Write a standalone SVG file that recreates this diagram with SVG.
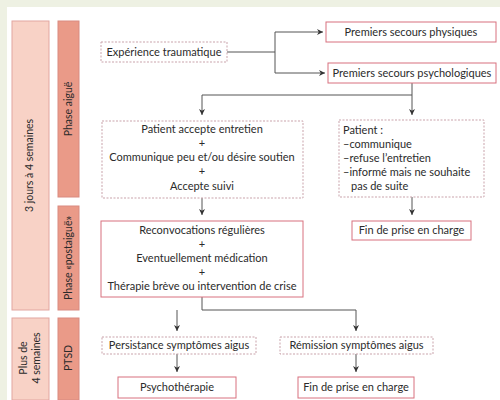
<svg xmlns="http://www.w3.org/2000/svg" width="500" height="400" viewBox="0 0 500 400">
<style>
text{font-family:Lato,"Liberation Sans",sans-serif;font-size:11px;fill:#2b2b2b}
.c{text-anchor:middle}
.v{font-size:10.5px}
.dash{fill:#fff;stroke:#c9a3ab;stroke-width:1;stroke-dasharray:2,1.5}
.sol{fill:#fff;stroke:#d8707e;stroke-width:1}
.b1{fill:#f8d2c6;stroke:#e2a6a0;stroke-width:1}
.b2{fill:#ea9a88;stroke:#d98a80;stroke-width:1}
.ln{fill:none;stroke:#555;stroke-width:1}
</style>
<defs>
<marker id="ah" viewBox="0 0 10 10" refX="10" refY="5" markerWidth="6" markerHeight="6" orient="auto" markerUnits="userSpaceOnUse">
<path d="M0,0 L10,5 L0,10 L3,5 Z" fill="#333"/>
</marker>
</defs>
<rect x="0" y="0" width="500" height="400" fill="#eef1e3"/>
<rect x="7" y="7" width="493" height="393" fill="#fff"/>

<g id="bar-3jours"><rect class="b1" x="12" y="21" width="37" height="289"/><text class="c v" transform="translate(33,165.5) rotate(-90)">3 jours à 4 semaines</text></g>
<g id="bar-aigue"><rect class="b2" x="58" y="21" width="21" height="176"/><text class="c v" transform="translate(72,109) rotate(-90)">Phase aiguë</text></g>
<g id="bar-postaigue"><rect class="b2" x="58" y="206" width="21" height="104"/><text class="c v" transform="translate(72,258) rotate(-90)">Phase «postaiguë»</text></g>
<g id="bar-plus"><rect class="b1" x="12" y="318" width="37" height="82"/><text class="c v" transform="translate(27,358) rotate(-90)">Plus de</text><text class="c v" transform="translate(40,358) rotate(-90)">4 semaines</text></g>
<g id="bar-ptsd"><rect class="b2" x="58" y="318" width="21" height="82"/><text class="c v" transform="translate(72,358) rotate(-90)">PTSD</text></g>

<g id="connectors" class="ln">
<path d="M227,52 H275"/>
<path d="M275,32 V73"/>
<path d="M275,32 H323" marker-end="url(#ah)"/>
<path d="M275,73 H325" marker-end="url(#ah)"/>
<path d="M412,83 V115" marker-end="url(#ah)"/>
<path d="M412,95 H202 V115" marker-end="url(#ah)"/>
<path d="M202,198 V215" marker-end="url(#ah)"/>
<path d="M412,197 V215" marker-end="url(#ah)"/>
<path d="M202,297 V310 H356 V331" marker-end="url(#ah)"/>
<path d="M177,310 V331" marker-end="url(#ah)"/>
<path d="M177,354 V372" marker-end="url(#ah)"/>
<path d="M356,354 V372" marker-end="url(#ah)"/>
</g>

<g id="experience"><rect class="dash" x="101" y="42" width="126" height="20"/><text class="c" x="164" y="55.8">Expérience traumatique</text></g>
<g id="secours-physiques"><rect class="sol" x="326" y="22" width="170" height="20"/><text class="c" x="411" y="35.8">Premiers secours physiques</text></g>
<g id="secours-psycho"><rect class="sol" x="328" y="63" width="168" height="20"/><text class="c" x="412" y="76.8">Premiers secours psychologiques</text></g>
<g id="patient-accepte"><rect class="dash" x="102" y="121" width="201" height="77"/>
<text class="c" x="202" y="133">Patient accepte entretien</text>
<text class="c" x="202" y="147">+</text>
<text class="c" x="202" y="161">Communique peu et/ou désire soutien</text>
<text class="c" x="202" y="175">+</text>
<text class="c" x="202" y="190">Accepte suivi</text></g>
<g id="patient-refus"><rect class="dash" x="339" y="120" width="145" height="77"/>
<text x="343" y="134">Patient :</text>
<text x="343" y="148">–communique</text>
<text x="343" y="162">–refuse l’entretien</text>
<text x="343" y="176">–informé mais ne souhaite</text>
<text x="351" y="190">pas de suite</text></g>
<g id="fin1"><rect class="sol" x="352" y="221" width="119" height="19"/><text class="c" x="411.5" y="234.3">Fin de prise en charge</text></g>
<g id="reconvocations"><rect class="sol" x="101" y="221" width="202" height="76"/>
<text class="c" x="202" y="234">Reconvocations régulières</text>
<text class="c" x="202" y="248">+</text>
<text class="c" x="202" y="262">Eventuellement médication</text>
<text class="c" x="202" y="276">+</text>
<text class="c" x="202" y="290">Thérapie brève ou intervention de crise</text></g>
<g id="persistance"><rect class="dash" x="102" y="337" width="154" height="17"/><text class="c" x="179" y="349.3">Persistance symptômes aigus</text></g>
<g id="remission"><rect class="dash" x="280" y="337" width="153" height="17"/><text class="c" x="356.5" y="349.3">Rémission symptômes aigus</text></g>
<g id="psychotherapie"><rect class="sol" x="118" y="377" width="118" height="21"/><text class="c" x="177" y="391.3">Psychothérapie</text></g>
<g id="fin2"><rect class="sol" x="298" y="377" width="116" height="21"/><text class="c" x="356" y="391.3">Fin de prise en charge</text></g>
</svg>
